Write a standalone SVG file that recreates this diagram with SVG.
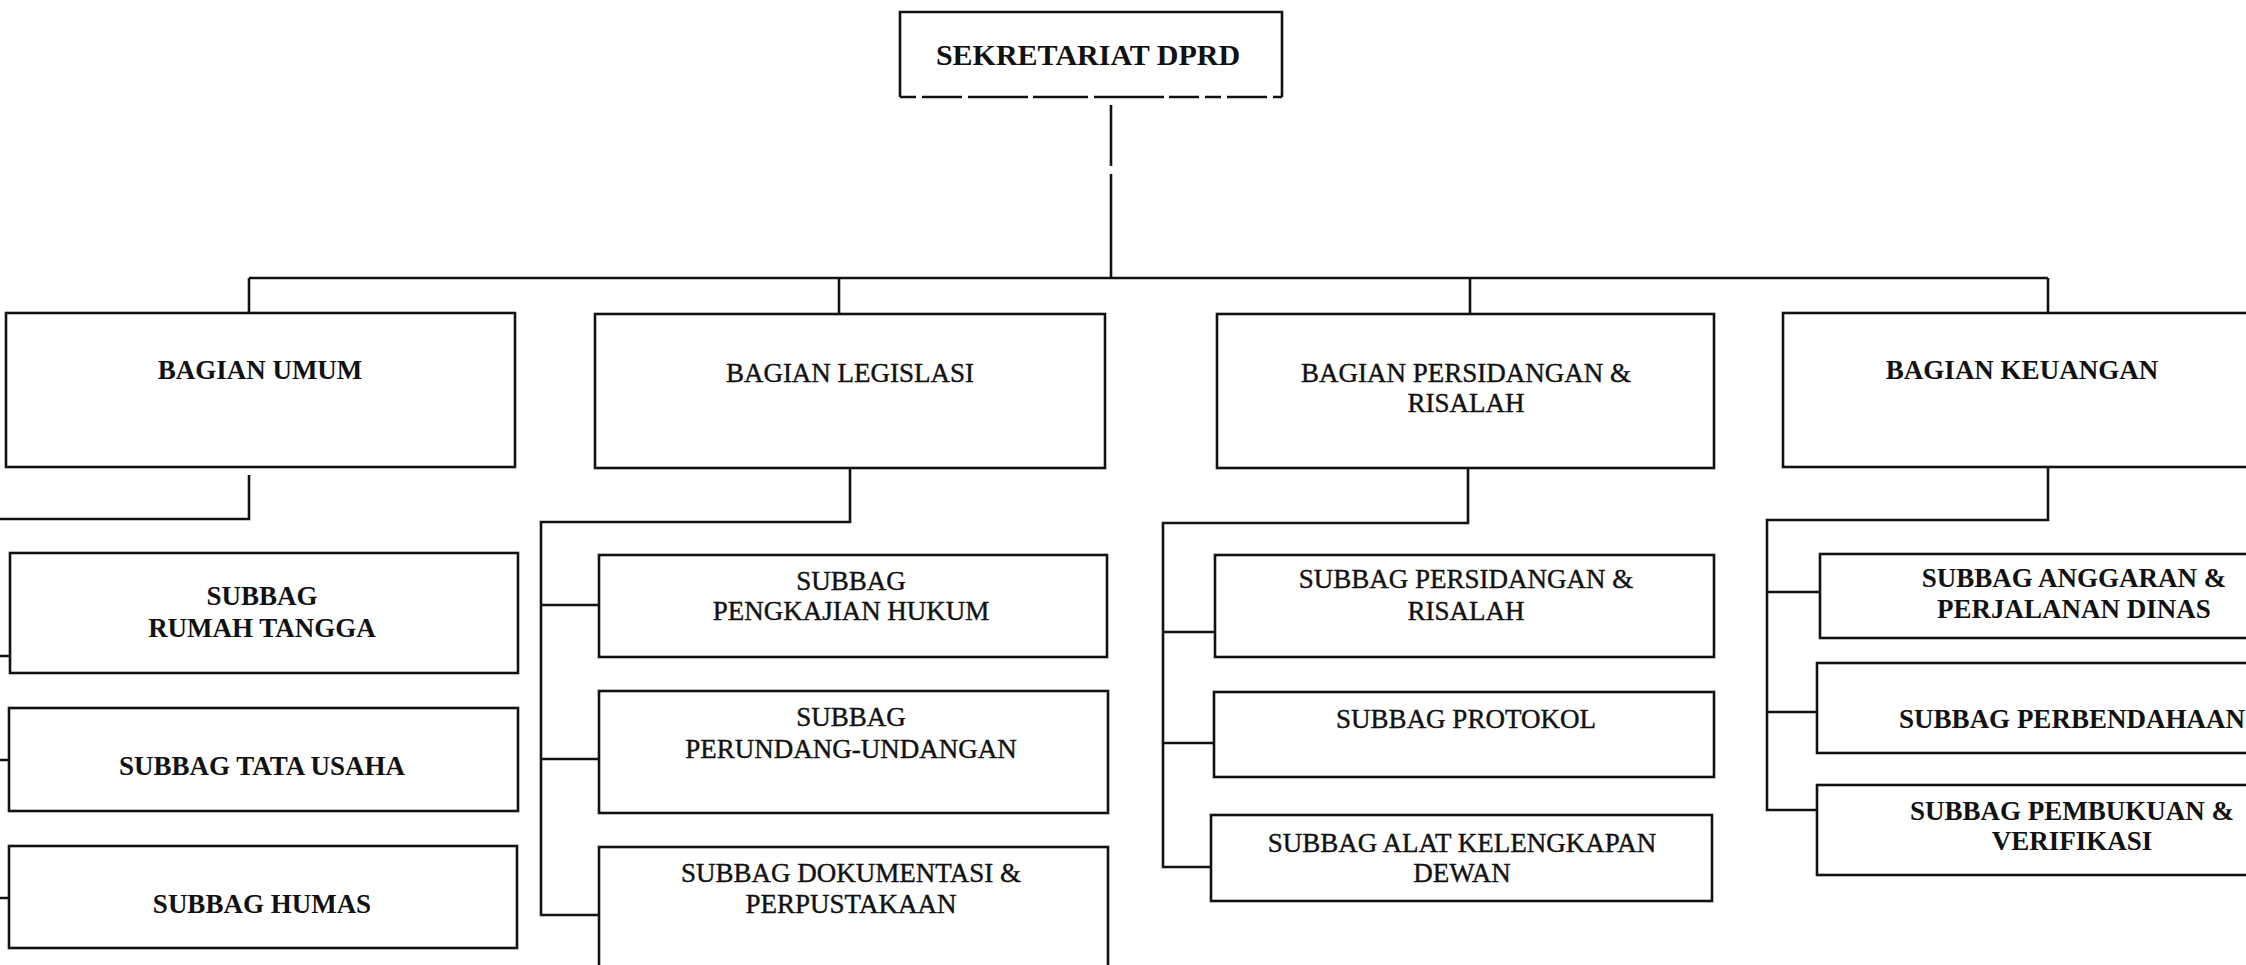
<svg xmlns="http://www.w3.org/2000/svg" width="2246" height="965" viewBox="0 0 2246 965">
<style>
.box{fill:none;stroke:#111;stroke-width:2.6}
.ln{fill:none;stroke:#111;stroke-width:2.6}
.t{font-family:"Liberation Serif","Times New Roman",serif;font-size:27px;fill:#111;text-anchor:middle;stroke:#111;stroke-width:0.4}
.b{font-weight:bold;stroke-width:0}
.top{font-size:30px}
</style>
<rect width="2246" height="965" fill="#fff"/>
<g id="connectors">
<path class="ln" d="M1111,105 V166 M1111,174 V278"/>
<path class="ln" d="M249,278 H2048"/>
<path class="ln" d="M249,278 V313 M839,278 V314 M1470,278 V314 M2048,278 V313"/>
<path class="ln" d="M249,475 V519 H0"/>
<path class="ln" d="M0,656 H10 M0,760 H9 M0,898 H9"/>
<path class="ln" d="M850,468 V522 H541 V915 H599 M541,605 H599 M541,759 H599"/>
<path class="ln" d="M1468,468 V523 H1163 V867 H1211 M1163,632 H1215 M1163,743 H1214"/>
<path class="ln" d="M2048,467 V520 H1767 V810 H1817 M1767,592 H1820 M1767,712 H1817"/>
</g>
<g id="sekretariat">
<path class="box" d="M900,97 V12 H1282 V97"/>
<path class="box" d="M900,97 H1282" stroke-dasharray="16 6 40 6 60 5 55 6 70 5 30 6"/>
<text class="t b top" x="1088" y="65">SEKRETARIAT DPRD</text>
</g>
<g id="bagian-umum">
<rect class="box" x="6" y="313" width="509" height="154"/>
<text class="t b" x="260" y="379">BAGIAN UMUM</text>
</g>
<g id="bagian-legislasi">
<rect class="box" x="595" y="314" width="510" height="154"/>
<text class="t" x="850" y="382">BAGIAN LEGISLASI</text>
</g>
<g id="bagian-persidangan">
<rect class="box" x="1217" y="314" width="497" height="154"/>
<text class="t" x="1466" y="382">BAGIAN PERSIDANGAN &amp;</text>
<text class="t" x="1466" y="412">RISALAH</text>
</g>
<g id="bagian-keuangan">
<rect class="box" x="1783" y="313" width="478" height="154"/>
<text class="t b" x="2022" y="379">BAGIAN KEUANGAN</text>
</g>
<g id="subbag-rumah-tangga">
<rect class="box" x="10" y="553" width="508" height="120"/>
<text class="t b" x="262" y="605">SUBBAG</text>
<text class="t b" x="262" y="637">RUMAH TANGGA</text>
</g>
<g id="subbag-tata-usaha">
<rect class="box" x="9" y="708" width="509" height="103"/>
<text class="t b" x="262" y="775">SUBBAG TATA USAHA</text>
</g>
<g id="subbag-humas">
<rect class="box" x="9" y="846" width="508" height="102"/>
<text class="t b" x="262" y="913">SUBBAG HUMAS</text>
</g>
<g id="subbag-pengkajian-hukum">
<rect class="box" x="599" y="555" width="508" height="102"/>
<text class="t" x="851" y="590">SUBBAG</text>
<text class="t" x="851" y="620">PENGKAJIAN HUKUM</text>
</g>
<g id="subbag-perundang-undangan">
<rect class="box" x="599" y="691" width="509" height="122"/>
<text class="t" x="851" y="726">SUBBAG</text>
<text class="t" x="851" y="758">PERUNDANG-UNDANGAN</text>
</g>
<g id="subbag-dokumentasi">
<rect class="box" x="599" y="847" width="509" height="140"/>
<text class="t" x="851" y="882">SUBBAG DOKUMENTASI &amp;</text>
<text class="t" x="851" y="913">PERPUSTAKAAN</text>
</g>
<g id="subbag-persidangan">
<rect class="box" x="1215" y="555" width="499" height="102"/>
<text class="t" x="1466" y="588">SUBBAG PERSIDANGAN &amp;</text>
<text class="t" x="1466" y="620">RISALAH</text>
</g>
<g id="subbag-protokol">
<rect class="box" x="1214" y="692" width="500" height="85"/>
<text class="t" x="1466" y="728">SUBBAG PROTOKOL</text>
</g>
<g id="subbag-alat-kelengkapan">
<rect class="box" x="1211" y="815" width="501" height="86"/>
<text class="t" x="1462" y="852">SUBBAG ALAT KELENGKAPAN</text>
<text class="t" x="1462" y="882">DEWAN</text>
</g>
<g id="subbag-anggaran">
<rect class="box" x="1820" y="554" width="504" height="84"/>
<text class="t b" x="2074" y="587">SUBBAG ANGGARAN &amp;</text>
<text class="t b" x="2074" y="618">PERJALANAN DINAS</text>
</g>
<g id="subbag-perbendahaan">
<rect class="box" x="1817" y="663" width="507" height="90"/>
<text class="t b" x="2072" y="728">SUBBAG PERBENDAHAAN</text>
</g>
<g id="subbag-pembukuan">
<rect class="box" x="1817" y="785" width="507" height="90"/>
<text class="t b" x="2072" y="820">SUBBAG PEMBUKUAN &amp;</text>
<text class="t b" x="2072" y="850">VERIFIKASI</text>
</g>
</svg>
